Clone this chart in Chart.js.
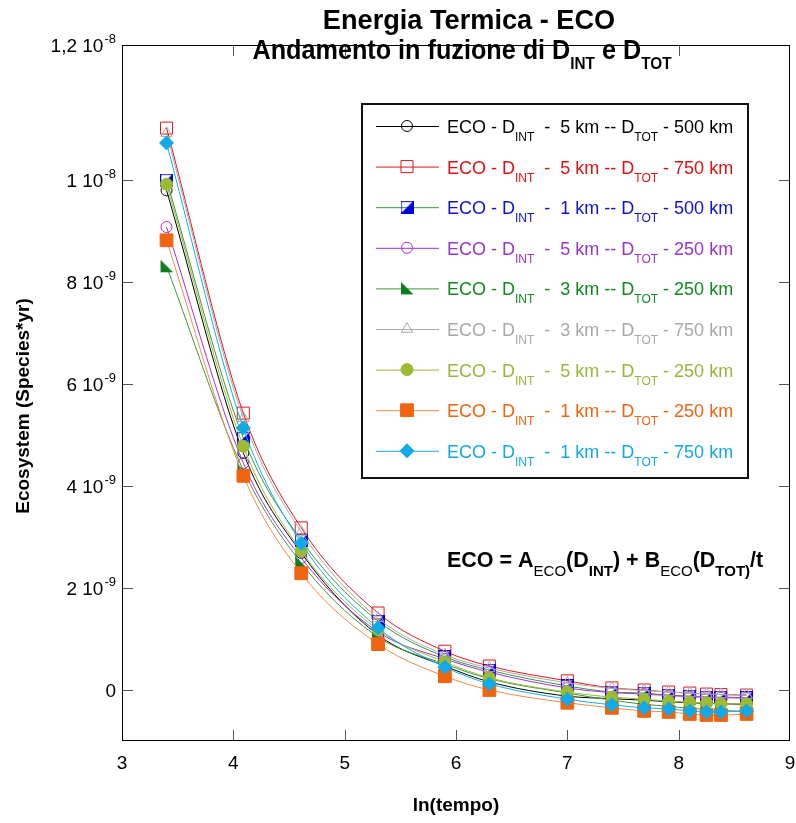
<!DOCTYPE html>
<html>
<head>
<meta charset="utf-8">
<script src="https://cdn.jsdelivr.net/npm/chart.js@4.4.1/dist/chart.umd.min.js"></script>
<style>
  html, body { margin: 0; padding: 0; background: #fff; }
  #wrap { width: 796px; height: 823px; }
</style>
</head>
<body>
<div id="wrap"><canvas id="chartEco" width="796" height="823"></canvas></div>
<script>
// ln(tempo) of each sample
const lnTempo = [3.40, 4.09, 4.61, 5.30, 5.90, 6.30, 7.00, 7.40, 7.69, 7.91, 8.10, 8.25, 8.38, 8.61];

// Ecosystem (Species*yr), in units of 1e-9
const eco5km500  = [9.80, 4.65, 2.69, 1.08, 0.47, 0.16, -0.12, -0.17, -0.20, -0.23, -0.25, -0.26, -0.27, -0.28];
const eco5km750  = [11.02, 5.43, 3.18, 1.51, 0.76, 0.47, 0.18, 0.04, 0.00, -0.04, -0.06, -0.08, -0.09, -0.10];
const eco1km500  = [10.00, 4.94, 2.94, 1.35, 0.65, 0.39, 0.08, -0.04, -0.06, -0.10, -0.12, -0.14, -0.14, -0.15];
const eco5km250  = [9.08, 4.45, 2.59, 1.14, 0.61, 0.35, 0.04, -0.05, -0.08, -0.11, -0.13, -0.14, -0.15, -0.16];
const eco3km250  = [8.31, 4.31, 2.49, 1.04, 0.51, 0.22, -0.06, -0.20, -0.28, -0.32, -0.36, -0.38, -0.40, -0.42];
const eco3km750  = [10.92, 5.33, 3.10, 1.41, 0.69, 0.43, 0.14, 0.03, -0.01, -0.04, -0.06, -0.08, -0.09, -0.10];
const eco5km250b = [9.92, 4.78, 2.73, 1.18, 0.55, 0.24, -0.04, -0.14, -0.18, -0.22, -0.24, -0.25, -0.27, -0.27];
const eco1km250  = [8.82, 4.20, 2.29, 0.90, 0.27, 0.00, -0.25, -0.35, -0.41, -0.43, -0.47, -0.49, -0.49, -0.47];
const eco1km750  = [10.73, 5.14, 2.88, 1.22, 0.45, 0.12, -0.18, -0.29, -0.35, -0.37, -0.41, -0.43, -0.43, -0.41];

const dInt = ['5', '5', '1', '5', '3', '3', '5', '1', '1'];
const dTot = ['500', '750', '500', '250', '250', '750', '250', '250', '750'];

const xTickValues = [3, 4, 5, 6, 7, 8, 9];
const yTickValues = [0, 2, 4, 6, 8, 10, 12.65];
const yTickLabels = [['0', ''], ['2 10', '-9'], ['4 10', '-9'], ['6 10', '-9'], ['8 10', '-9'], ['1 10', '-8'], ['1,2 10', '-8']];

const FONT = "'Liberation Sans', Arial, sans-serif";

// custom markers
function markerCanvas(size, drawFn) {
    const c = document.createElement('canvas');
    c.width = size; c.height = size;
    drawFn(c.getContext('2d'), size);
    return c;
}
const halfSquare = markerCanvas(13, function(g, s) {
    g.fillStyle = '#0000d8';
    g.beginPath(); g.moveTo(s - 1, 1); g.lineTo(s - 1, s - 1); g.lineTo(1, s - 1); g.closePath(); g.fill();
    g.strokeStyle = '#0000d8'; g.lineWidth = 1.2;
    g.strokeRect(0.6, 0.6, s - 1.2, s - 1.2);
});
const cornerTriangle = markerCanvas(14, function(g, s) {
    g.fillStyle = '#0a7d1e';
    g.beginPath(); g.moveTo(1, 0.5); g.lineTo(1, s - 1); g.lineTo(s - 0.5, s - 1); g.closePath(); g.fill();
});

const series = [
    { data: eco5km500,  line: '#000000', text: '#000000', style: 'circle', radius: 5.5, fill: 'rgba(0,0,0,0)', border: '#000000' },
    { data: eco5km750,  line: '#e4161b', text: '#e41010', style: 'rect', radius: 8.5, fill: 'rgba(0,0,0,0)', border: '#e4161b' },
    { data: eco1km500,  line: '#3c963c', text: '#1010d8', style: halfSquare, radius: 6.5, fill: '#0000d8', border: '#0000d8' },
    { data: eco5km250,  line: '#a32ee0', text: '#9a33d0', style: 'circle', radius: 5.5, fill: 'rgba(0,0,0,0)', border: '#a32ee0' },
    { data: eco3km250,  line: '#3a9a3a', text: '#108a20', style: cornerTriangle, radius: 7, fill: '#0a7d1e', border: '#0a7d1e' },
    { data: eco3km750,  line: '#aaaaaa', text: '#a8a8a8', style: 'triangle', radius: 6.5, fill: 'rgba(0,0,0,0)', border: '#aaaaaa' },
    { data: eco5km250b, line: '#9bbb3a', text: '#96b83a', style: 'circle', radius: 6, fill: '#9bbb33', border: '#9bbb33' },
    { data: eco1km250,  line: '#f08a4a', text: '#f0640f', style: 'rect', radius: 9, fill: '#f0640f', border: '#f0640f' },
    { data: eco1km750,  line: '#14aee6', text: '#12a8e0', style: 'rectRot', radius: 7, fill: '#10aae8', border: '#10aae8' }
];

// draws text runs with subscripts; sx squeezes the run horizontally
function drawRich(ctx, parts, x, baseline, align, color, sx) {
    sx = sx || 1;
    let total = 0;
    parts.forEach(function(p) { ctx.font = p.font; p.w = ctx.measureText(p.t).width; total += p.w; });
    total *= sx;
    let cx = align === 'center' ? x - total / 2 : (align === 'right' ? x - total : x);
    ctx.save();
    ctx.translate(cx, baseline);
    ctx.scale(sx, 1);
    ctx.textAlign = 'left';
    ctx.textBaseline = 'alphabetic';
    ctx.fillStyle = color;
    let px = 0;
    parts.forEach(function(p) {
        ctx.font = p.font;
        ctx.fillText(p.t, px, p.dy || 0);
        px += p.w;
    });
    ctx.restore();
}

const decorPlugin = {
    id: 'decor',
    afterDraw: function(chart) {
        const ctx = chart.ctx;
        const area = chart.chartArea;
        const xs = chart.scales.x, ys = chart.scales.y;
        ctx.save();

        // inward tick marks
        ctx.strokeStyle = '#555';
        ctx.lineWidth = 1;
        ctx.beginPath();
        xTickValues.slice(1, -1).forEach(function(v) {
            const px = Math.round(xs.getPixelForValue(v)) + 0.5;
            ctx.moveTo(px, area.top); ctx.lineTo(px, area.top + 11);
            ctx.moveTo(px, area.bottom); ctx.lineTo(px, area.bottom - 11);
        });
        yTickValues.slice(0, -1).forEach(function(v) {
            const py = Math.round(ys.getPixelForValue(v)) + 0.5;
            ctx.moveTo(area.left, py); ctx.lineTo(area.left + 11, py);
            ctx.moveTo(area.right, py); ctx.lineTo(area.right - 11, py);
        });
        ctx.stroke();

        // frame
        ctx.strokeStyle = '#000';
        ctx.strokeRect(Math.round(area.left) + 0.5, Math.round(area.top) + 0.5,
            Math.round(area.right - area.left) - 1, Math.round(area.bottom - area.top) - 1);

        // y tick labels with exponent
        yTickValues.forEach(function(v, i) {
            const py = ys.getPixelForValue(v);
            const lab = yTickLabels[i];
            ctx.font = '13px ' + FONT;
            const supW = ctx.measureText(lab[1]).width;
            ctx.fillStyle = '#000';
            ctx.textAlign = 'right';
            ctx.textBaseline = 'alphabetic';
            ctx.fillText(lab[1], 116, py - 2);
            ctx.font = '19px ' + FONT;
            ctx.fillText(lab[0], 116 - supW - (lab[1] ? 1 : 0), py + 7);
        });

        // y axis title
        ctx.save();
        ctx.translate(24, 406);
        ctx.rotate(-Math.PI / 2);
        ctx.font = 'bold 19px ' + FONT;
        ctx.fillStyle = '#000';
        ctx.textAlign = 'center';
        ctx.textBaseline = 'middle';
        ctx.fillText('Ecosystem (Species*yr)', 0, 0);
        ctx.restore();

        // title (condensed bold)
        const tf = 'bold 28px ' + FONT, ts = 'bold 17px ' + FONT;
        drawRich(ctx, [{ t: 'Energia Termica - ECO', font: tf }], 469, 29, 'center', '#000', 0.97);
        drawRich(ctx, [
            { t: 'Andamento in fuzione di D', font: tf },
            { t: 'INT', font: ts, dy: 10 },
            { t: ' e D', font: tf },
            { t: 'TOT', font: ts, dy: 10 }
        ], 462, 59, 'center', '#000', 0.9);

        // legend
        const bx = 362, by = 104, bw = 386, bh = 374;
        ctx.fillStyle = '#fff';
        ctx.fillRect(bx, by, bw, bh);
        ctx.strokeStyle = '#111';
        ctx.lineWidth = 2;
        ctx.strokeRect(bx, by, bw, bh);
        const mf = '18px ' + FONT, sf = '12px ' + FONT;
        series.forEach(function(s, i) {
            const ry = 126 + i * 40.6;
            ctx.strokeStyle = s.line;
            ctx.lineWidth = 1;
            ctx.beginPath(); ctx.moveTo(376, ry + 0.5); ctx.lineTo(439, ry + 0.5); ctx.stroke();
            ctx.fillStyle = s.fill;
            ctx.strokeStyle = s.border;
            Chart.helpers.drawPoint(ctx, { pointStyle: s.style, radius: s.radius, borderWidth: 1, rotation: 0 }, 407, ry);
            drawRich(ctx, [
                { t: 'ECO - D', font: mf },
                { t: 'INT', font: sf, dy: 8 },
                { t: '  -  ' + dInt[i] + ' km -- D', font: mf },
                { t: 'TOT', font: sf, dy: 8 },
                { t: ' - ' + dTot[i] + ' km', font: mf }
            ], 447, ry + 7, 'left', s.text);
        });

        // equation
        const ef = 'bold 21.5px ' + FONT, es = '15px ' + FONT, eb = 'bold 15px ' + FONT;
        drawRich(ctx, [
            { t: 'ECO = A', font: ef },
            { t: 'ECO', font: es, dy: 9 },
            { t: '(D', font: ef },
            { t: 'INT', font: eb, dy: 9 },
            { t: ') + B', font: ef },
            { t: 'ECO', font: es, dy: 9 },
            { t: '(D', font: ef },
            { t: 'TOT)', font: eb, dy: 9 },
            { t: '/t', font: ef }
        ], 447, 567, 'left', '#000');

        ctx.restore();
    }
};

const ctxEco = document.getElementById('chartEco').getContext('2d');

const chartEco = new Chart(ctxEco, {
    type: 'line',
    data: {
        datasets: series.map(function(s, i) {
            return {
                label: 'ECO - DINT - ' + dInt[i] + ' km -- DTOT - ' + dTot[i] + ' km',
                data: lnTempo.map(function(x, k) { return { x: x, y: s.data[k] }; }),
                borderColor: s.line,
                borderWidth: 1,
                backgroundColor: s.fill,
                pointStyle: s.style,
                pointRadius: s.radius,
                pointBorderColor: s.border,
                pointBackgroundColor: s.fill,
                pointBorderWidth: 1,
                cubicInterpolationMode: 'monotone',
                fill: false,
                order: series.length - 1 - i
            };
        })
    },
    options: {
        responsive: false,
        animation: false,
        layout: { autoPadding: false, padding: { left: 0, right: 6, top: 45, bottom: 0 } },
        plugins: {
            legend: { display: false },
            tooltip: { enabled: false },
            title: { display: false }
        },
        scales: {
            x: {
                type: 'linear',
                min: 3,
                max: 9,
                afterBuildTicks: function(scale) { scale.ticks = xTickValues.map(function(v) { return { value: v }; }); },
                afterFit: function(scale) { scale.height = 82; scale.paddingLeft = 0; scale.paddingRight = 0; },
                grid: { display: false, drawTicks: false },
                border: { display: false },
                ticks: { color: '#000', font: { family: FONT, size: 19 }, padding: 11, maxRotation: 0 },
                title: { display: true, text: 'ln(tempo)', color: '#000', font: { family: FONT, size: 19, weight: 'bold' }, padding: { top: 0, bottom: 6 } }
            },
            y: {
                type: 'linear',
                min: -1,
                max: 12.65,
                afterBuildTicks: function(scale) { scale.ticks = yTickValues.map(function(v) { return { value: v }; }); },
                afterFit: function(scale) { scale.width = 122; scale.paddingTop = 0; scale.paddingBottom = 0; },
                grid: { display: false, drawTicks: false },
                border: { display: false },
                ticks: { display: false }
            }
        }
    },
    plugins: [decorPlugin]
});
</script>
</body>
</html>
